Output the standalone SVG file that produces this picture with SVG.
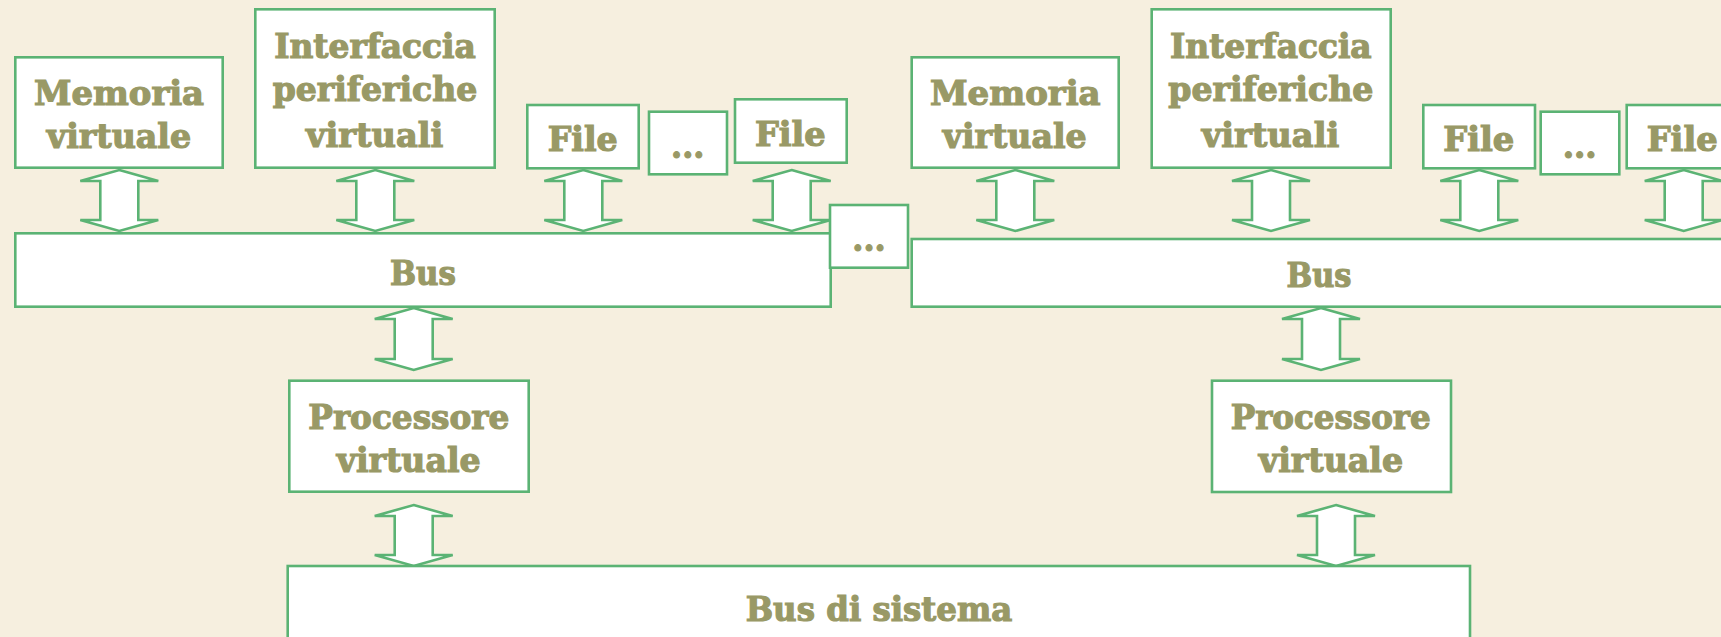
<svg xmlns="http://www.w3.org/2000/svg" width="1721" height="637" viewBox="0 0 1721 637">
<style>
.bx{fill:#ffffff;stroke:#5bb374;stroke-width:2.6}
.ar{fill:#ffffff;stroke:#5bb374;stroke-width:2.6;stroke-linejoin:miter}
.t{font-family:"DejaVu Serif","Liberation Serif",serif;font-weight:bold;font-size:33px;fill:#999966;stroke:#999966;stroke-width:1.2;text-anchor:middle}
</style>
<defs>
<polygon id="dblarrow" points="0,0 39,11 19,11 19,50 39,50 0,61 -39,50 -19,50 -19,11 -39,11"/>
<polygon id="dblarrow2" points="0,0 39,11 19,11 19,51 39,51 0,62 -39,51 -19,51 -19,11 -39,11"/>
</defs>
<rect width="1721" height="637" fill="#f6efdf"/>

<g id="connectors">
<use href="#dblarrow" class="ar" x="119.3" y="170"/>
<use href="#dblarrow" class="ar" x="375.3" y="170"/>
<use href="#dblarrow" class="ar" x="583.3" y="170"/>
<use href="#dblarrow" class="ar" x="791.7" y="170"/>
<use href="#dblarrow" class="ar" x="1015.3" y="170"/>
<use href="#dblarrow" class="ar" x="1271" y="170"/>
<use href="#dblarrow" class="ar" x="1479.3" y="170"/>
<use href="#dblarrow" class="ar" x="1683.7" y="170"/>
<use href="#dblarrow2" class="ar" x="413.7" y="308"/>
<use href="#dblarrow" class="ar" x="413.7" y="505"/>
<use href="#dblarrow2" class="ar" x="1321" y="308"/>
<use href="#dblarrow" class="ar" x="1336" y="505"/>
</g>

<g id="bus-left">
<rect class="bx" x="15.3" y="233.3" width="815.4" height="73.4"/>
<text class="t" x="423" y="285" textLength="66" lengthAdjust="spacingAndGlyphs">Bus</text>
</g>
<g id="bus-right">
<rect class="bx" x="911.7" y="239" width="820" height="67.7"/>
<text class="t" x="1319" y="287" textLength="65" lengthAdjust="spacingAndGlyphs">Bus</text>
</g>
<g id="dots-middle">
<rect class="bx" x="830" y="205" width="78" height="62.7"/>
<text class="t" x="869" y="251" textLength="33.4" lengthAdjust="spacingAndGlyphs">...</text>
</g>

<g id="memoria-left">
<rect class="bx" x="15.3" y="57.3" width="207.4" height="110.4"/>
<text class="t" x="119" y="105" textLength="170" lengthAdjust="spacingAndGlyphs">Memoria</text>
<text class="t" x="119" y="147.7" textLength="144.3" lengthAdjust="spacingAndGlyphs">virtuale</text>
</g>
<g id="interfaccia-left">
<rect class="bx" x="255.3" y="9.3" width="239.4" height="158.4"/>
<text class="t" x="375" y="58.3" textLength="201.7" lengthAdjust="spacingAndGlyphs">Interfaccia</text>
<text class="t" x="375" y="101" textLength="204.6" lengthAdjust="spacingAndGlyphs">periferiche</text>
<text class="t" x="374.7" y="146.7" textLength="137.3" lengthAdjust="spacingAndGlyphs">virtuali</text>
</g>
<g id="file-left-1">
<rect class="bx" x="527.3" y="105" width="111.4" height="63.3"/>
<text class="t" x="582.7" y="150.7" textLength="70" lengthAdjust="spacingAndGlyphs">File</text>
</g>
<g id="dots-left">
<rect class="bx" x="649" y="111.7" width="78" height="62.6"/>
<text class="t" x="687.7" y="158.3" textLength="33.3" lengthAdjust="spacingAndGlyphs">...</text>
</g>
<g id="file-left-2">
<rect class="bx" x="735" y="99.3" width="111.7" height="63.4"/>
<text class="t" x="790.3" y="145.7" textLength="70.7" lengthAdjust="spacingAndGlyphs">File</text>
</g>

<g id="memoria-right">
<rect class="bx" x="911.7" y="57.3" width="207" height="110.4"/>
<text class="t" x="1015.3" y="105" textLength="170.7" lengthAdjust="spacingAndGlyphs">Memoria</text>
<text class="t" x="1014.7" y="147.7" textLength="144" lengthAdjust="spacingAndGlyphs">virtuale</text>
</g>
<g id="interfaccia-right">
<rect class="bx" x="1151.7" y="9.3" width="239" height="158.4"/>
<text class="t" x="1270.8" y="58.3" textLength="201.7" lengthAdjust="spacingAndGlyphs">Interfaccia</text>
<text class="t" x="1270.8" y="101" textLength="205" lengthAdjust="spacingAndGlyphs">periferiche</text>
<text class="t" x="1270.5" y="146.7" textLength="137.6" lengthAdjust="spacingAndGlyphs">virtuali</text>
</g>
<g id="file-right-1">
<rect class="bx" x="1423.3" y="105" width="111.7" height="63.3"/>
<text class="t" x="1478.8" y="151" textLength="71" lengthAdjust="spacingAndGlyphs">File</text>
</g>
<g id="dots-right">
<rect class="bx" x="1540.7" y="111.7" width="78.6" height="62.6"/>
<text class="t" x="1579.7" y="158.3" textLength="34" lengthAdjust="spacingAndGlyphs">...</text>
</g>
<g id="file-right-2">
<rect class="bx" x="1626.7" y="105" width="111.7" height="63.3"/>
<text class="t" x="1682.2" y="151" textLength="71" lengthAdjust="spacingAndGlyphs">File</text>
</g>

<g id="processore-left">
<rect class="bx" x="289.3" y="380.7" width="239.4" height="111"/>
<text class="t" x="408.8" y="429" textLength="201" lengthAdjust="spacingAndGlyphs">Processore</text>
<text class="t" x="408.7" y="471.7" textLength="144" lengthAdjust="spacingAndGlyphs">virtuale</text>
</g>
<g id="processore-right">
<rect class="bx" x="1212" y="380.7" width="239" height="111.3"/>
<text class="t" x="1330.7" y="429" textLength="200" lengthAdjust="spacingAndGlyphs">Processore</text>
<text class="t" x="1331" y="471.7" textLength="144.3" lengthAdjust="spacingAndGlyphs">virtuale</text>
</g>

<g id="bus-sistema">
<rect class="bx" x="287.7" y="566" width="1182.3" height="90"/>
<text class="t" x="879" y="620.7" textLength="266.6" lengthAdjust="spacingAndGlyphs">Bus di sistema</text>
</g>
</svg>
